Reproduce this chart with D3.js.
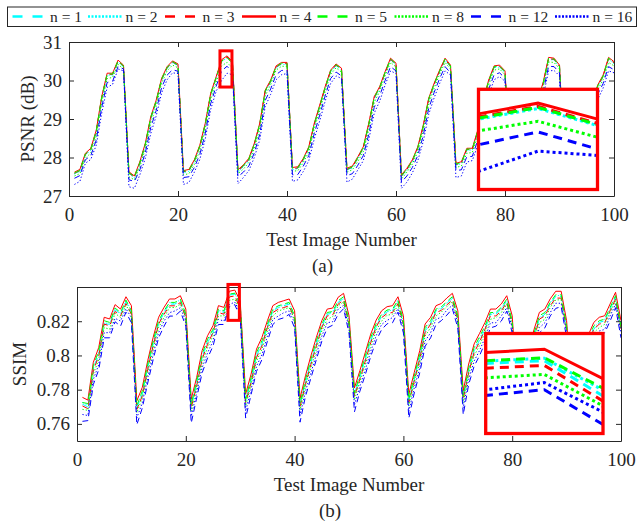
<!DOCTYPE html>
<html>
<head>
<meta charset="utf-8">
<script src="https://cdn.jsdelivr.net/npm/d3@7"></script>
<style>
  body { margin: 0; background: #fff; }
  text { font-family: "Liberation Serif", "Times New Roman", serif; fill: #262626; }
</style>
</head>
<body>
<svg id="fig" width="639" height="527"></svg>
<script>
// ---- data ----
const seriesNames = ["n = 1", "n = 2", "n = 3", "n = 4", "n = 5", "n = 8", "n = 12", "n = 16"];
const xTicks = [0, 20, 40, 60, 80, 100];
const psnrTicks = [27, 28, 29, 30, 31];
const ssimTicks = [0.76, 0.78, 0.8, 0.82];

// PSNR (dB), test images 1..100
const psnr_n1 = [27.58,27.65,28.07,28.20,28.66,29.53,30.15,30.15,30.49,30.36,
  27.59,27.48,27.85,28.33,29.01,29.44,30.02,30.32,30.47,30.39,
  27.62,27.65,27.90,28.28,28.84,29.62,30.06,30.50,30.60,30.44,
  27.64,27.77,27.94,28.33,28.84,29.70,29.97,30.34,30.43,30.43,
  27.70,27.72,27.94,28.24,28.84,29.31,29.80,30.23,30.39,30.28,
  27.68,27.74,27.98,28.24,28.84,29.53,29.80,30.19,30.54,30.41,
  27.51,27.68,27.90,28.24,28.79,29.49,29.89,30.23,30.54,30.36,
  27.81,27.85,28.20,28.20,28.66,29.45,29.97,30.34,30.36,30.21,
  27.66,27.71,27.96,28.26,28.85,29.45,29.91,30.56,30.54,30.36,
  27.56,27.66,27.91,28.26,28.80,29.35,29.84,30.10,30.56,30.45];
const psnr_n2 = [27.57,27.64,28.06,28.19,28.65,29.52,30.14,30.14,30.48,30.35,
  27.58,27.47,27.84,28.32,29.00,29.43,30.01,30.31,30.46,30.38,
  27.61,27.64,27.89,28.27,28.83,29.61,30.05,30.49,30.59,30.43,
  27.63,27.76,27.93,28.32,28.83,29.69,29.96,30.33,30.42,30.42,
  27.69,27.71,27.93,28.23,28.83,29.30,29.79,30.22,30.38,30.27,
  27.67,27.73,27.97,28.23,28.83,29.52,29.79,30.18,30.53,30.40,
  27.50,27.67,27.89,28.23,28.78,29.48,29.88,30.22,30.53,30.35,
  27.80,27.84,28.19,28.19,28.65,29.44,29.96,30.33,30.35,30.20,
  27.65,27.70,27.95,28.25,28.84,29.44,29.90,30.55,30.53,30.35,
  27.55,27.65,27.90,28.25,28.79,29.34,29.83,30.09,30.55,30.44];
const psnr_n3 = [27.59,27.66,28.08,28.21,28.68,29.55,30.16,30.16,30.50,30.37,
  27.60,27.49,27.86,28.34,29.03,29.46,30.03,30.33,30.48,30.40,
  27.63,27.66,27.91,28.29,28.86,29.64,30.07,30.51,30.61,30.45,
  27.65,27.78,27.95,28.34,28.86,29.72,29.98,30.35,30.44,30.44,
  27.71,27.73,27.95,28.25,28.86,29.33,29.81,30.24,30.40,30.29,
  27.69,27.75,27.99,28.25,28.86,29.55,29.81,30.20,30.55,30.42,
  27.52,27.69,27.91,28.25,28.81,29.51,29.90,30.24,30.55,30.37,
  27.82,27.86,28.21,28.21,28.68,29.47,29.98,30.35,30.37,30.22,
  27.67,27.72,27.97,28.27,28.87,29.47,29.92,30.57,30.55,30.37,
  27.57,27.67,27.92,28.27,28.82,29.37,29.85,30.11,30.57,30.46];
const psnr_n4 = [27.62,27.69,28.11,28.24,28.71,29.58,30.19,30.19,30.53,30.40,
  27.63,27.52,27.89,28.37,29.06,29.49,30.06,30.36,30.51,30.43,
  27.66,27.69,27.94,28.32,28.89,29.67,30.10,30.54,30.64,30.49,
  27.68,27.81,27.98,28.37,28.89,29.75,30.01,30.38,30.47,30.47,
  27.74,27.76,27.98,28.28,28.89,29.36,29.84,30.27,30.43,30.32,
  27.72,27.78,28.02,28.28,28.89,29.58,29.84,30.23,30.58,30.45,
  27.55,27.72,27.94,28.28,28.84,29.54,29.93,30.27,30.58,30.40,
  27.85,27.89,28.24,28.24,28.71,29.50,30.01,30.38,30.40,30.25,
  27.70,27.75,28.00,28.30,28.90,29.50,29.95,30.60,30.58,30.40,
  27.60,27.70,27.95,28.30,28.85,29.40,29.88,30.14,30.60,30.49];
const psnr_n5 = [27.60,27.67,28.09,28.22,28.69,29.56,30.17,30.17,30.51,30.38,
  27.61,27.50,27.87,28.35,29.04,29.47,30.04,30.34,30.49,30.41,
  27.64,27.67,27.92,28.30,28.87,29.65,30.08,30.50,30.60,30.44,
  27.66,27.79,27.96,28.35,28.87,29.73,29.99,30.36,30.45,30.45,
  27.72,27.74,27.96,28.26,28.87,29.34,29.82,30.25,30.41,30.30,
  27.70,27.76,28.00,28.26,28.87,29.56,29.82,30.21,30.56,30.43,
  27.53,27.70,27.92,28.26,28.82,29.52,29.91,30.25,30.56,30.38,
  27.83,27.87,28.22,28.22,28.69,29.48,29.99,30.36,30.38,30.23,
  27.68,27.73,27.98,28.28,28.88,29.48,29.93,30.58,30.56,30.38,
  27.58,27.68,27.93,28.28,28.83,29.38,29.86,30.12,30.58,30.47];
const psnr_n8 = [27.52,27.58,27.98,28.12,28.55,29.42,30.05,30.08,30.42,30.30,
  27.50,27.42,27.76,28.22,28.90,29.34,29.93,30.25,30.40,30.33,
  27.55,27.58,27.82,28.18,28.74,29.52,29.96,30.38,30.47,30.32,
  27.58,27.70,27.87,28.23,28.73,29.60,29.89,30.27,30.37,30.37,
  27.64,27.66,27.87,28.15,28.74,29.22,29.71,30.16,30.33,30.22,
  27.62,27.68,27.90,28.15,28.73,29.43,29.72,30.12,30.47,30.35,
  27.44,27.62,27.83,28.15,28.69,29.39,29.80,30.16,30.47,30.30,
  27.74,27.78,28.11,28.13,28.57,29.36,29.88,30.27,30.30,30.15,
  27.60,27.65,27.88,28.17,28.75,29.36,29.82,30.48,30.47,30.30,
  27.50,27.60,27.83,28.17,28.71,29.26,29.75,30.02,30.47,30.38];
const psnr_n12 = [27.46,27.53,27.94,28.05,28.45,29.30,29.95,29.98,30.36,30.30,
  27.42,27.38,27.68,28.12,28.78,29.22,29.82,30.14,30.28,30.24,
  27.48,27.50,27.74,28.08,28.62,29.40,29.85,30.25,30.37,30.21,
  27.50,27.62,27.78,28.12,28.60,29.48,29.78,30.15,30.26,30.27,
  27.55,27.56,27.78,28.05,28.62,29.10,29.60,30.05,30.22,30.12,
  27.53,27.58,27.80,28.05,28.60,29.30,29.60,30.00,30.36,30.25,
  27.36,27.52,27.74,28.05,28.57,29.27,29.69,30.05,30.36,30.20,
  27.66,27.68,28.02,28.03,28.45,29.24,29.77,30.15,30.20,30.06,
  27.52,27.56,27.79,28.07,28.63,29.24,29.71,30.37,30.36,30.20,
  27.42,27.51,27.74,28.07,28.59,29.14,29.64,29.92,30.36,30.28];
const psnr_n16 = [27.30,27.38,27.85,27.95,28.32,29.15,29.82,29.90,30.30,30.25,
  27.24,27.20,27.55,27.98,28.62,29.08,29.68,30.02,30.20,30.18,
  27.30,27.35,27.62,27.95,28.48,29.25,29.72,30.00,30.19,30.15,
  27.32,27.48,27.66,28.00,28.46,29.32,29.64,30.02,30.15,30.18,
  27.38,27.42,27.64,27.92,28.48,28.95,29.46,29.92,30.12,30.05,
  27.36,27.44,27.68,27.92,28.46,29.15,29.46,29.88,30.25,30.18,
  27.20,27.36,27.60,27.92,28.42,29.12,29.55,29.92,30.25,30.14,
  27.48,27.52,27.88,27.92,28.32,29.10,29.62,30.02,30.10,29.98,
  27.35,27.40,27.65,27.95,28.50,29.10,29.58,30.25,30.26,30.12,
  27.25,27.36,27.60,27.95,28.46,29.00,29.50,29.80,30.25,30.20];

// SSIM, test images 1..100
const ssim_n1 = [.7715,.7699,.7920,.8007,.8183,.8183,.8267,.8241,.8313,.8251,
  .7695,.7773,.7929,.8066,.8183,.8251,.8300,.8300,.8319,.8231,
  .7705,.7832,.7988,.8075,.8134,.8261,.8251,.8352,.8358,.8284,
  .7734,.7851,.7997,.8066,.8163,.8261,.8280,.8290,.8300,.8221,
  .7710,.7841,.7958,.8066,.8163,.8241,.8247,.8310,.8333,.8192,
  .7770,.7871,.7978,.8085,.8167,.8231,.8255,.8261,.8313,.8192,
  .7734,.7861,.7988,.8144,.8183,.8261,.8274,.8306,.8333,.8221,
  .7754,.7910,.8027,.8089,.8153,.8241,.8241,.8271,.8319,.8192,
  .7720,.7860,.7990,.8110,.8212,.8241,.8301,.8345,.8345,.8163,
  .7700,.7840,.7970,.8080,.8153,.8193,.8202,.8271,.8339,.8163];
const ssim_n2 = [.7725,.7709,.7930,.8017,.8193,.8183,.8277,.8241,.8323,.8261,
  .7705,.7783,.7939,.8076,.8193,.8251,.8310,.8300,.8329,.8241,
  .7715,.7842,.7998,.8085,.8144,.8261,.8261,.8357,.8363,.8296,
  .7744,.7861,.8007,.8076,.8173,.8261,.8290,.8290,.8310,.8231,
  .7720,.7851,.7968,.8076,.8173,.8241,.8257,.8310,.8343,.8202,
  .7780,.7881,.7988,.8095,.8177,.8231,.8265,.8261,.8323,.8202,
  .7744,.7871,.7998,.8154,.8193,.8261,.8284,.8306,.8343,.8231,
  .7764,.7920,.8037,.8099,.8163,.8241,.8251,.8271,.8329,.8202,
  .7730,.7870,.8000,.8120,.8222,.8241,.8311,.8345,.8355,.8173,
  .7710,.7850,.7980,.8090,.8163,.8193,.8212,.8271,.8349,.8173];
const ssim_n3 = [.7705,.7689,.7910,.7997,.8183,.8173,.8257,.8231,.8303,.8241,
  .7685,.7763,.7919,.8056,.8183,.8241,.8290,.8290,.8309,.8221,
  .7695,.7822,.7978,.8065,.8134,.8251,.8241,.8342,.8348,.8273,
  .7724,.7841,.7987,.8056,.8163,.8251,.8270,.8280,.8290,.8211,
  .7700,.7831,.7948,.8056,.8163,.8231,.8237,.8300,.8323,.8182,
  .7760,.7861,.7968,.8075,.8167,.8221,.8245,.8251,.8303,.8182,
  .7724,.7851,.7978,.8134,.8183,.8251,.8264,.8296,.8323,.8211,
  .7744,.7900,.8017,.8079,.8153,.8231,.8231,.8261,.8309,.8182,
  .7710,.7850,.7980,.8100,.8212,.8231,.8291,.8335,.8335,.8153,
  .7690,.7830,.7960,.8070,.8153,.8183,.8192,.8261,.8329,.8153];
const ssim_n4 = [.7755,.7739,.7960,.8047,.8223,.8213,.8297,.8271,.8343,.8291,
  .7735,.7813,.7969,.8106,.8223,.8281,.8330,.8330,.8349,.8271,
  .7745,.7872,.8028,.8115,.8174,.8291,.8281,.8375,.8382,.8320,
  .7774,.7891,.8037,.8106,.8203,.8291,.8310,.8320,.8330,.8261,
  .7750,.7881,.7998,.8106,.8203,.8271,.8277,.8340,.8363,.8232,
  .7810,.7911,.8018,.8125,.8207,.8261,.8285,.8291,.8343,.8232,
  .7774,.7901,.8028,.8184,.8223,.8291,.8304,.8336,.8363,.8261,
  .7794,.7950,.8067,.8129,.8193,.8271,.8271,.8301,.8349,.8232,
  .7760,.7900,.8030,.8150,.8252,.8271,.8331,.8375,.8375,.8203,
  .7740,.7880,.8010,.8120,.8193,.8223,.8232,.8301,.8369,.8203];
const ssim_n5 = [.7725,.7719,.7940,.8027,.8203,.8193,.8277,.8251,.8323,.8261,
  .7705,.7793,.7949,.8086,.8203,.8261,.8310,.8310,.8329,.8241,
  .7715,.7852,.8008,.8095,.8154,.8271,.8261,.8358,.8364,.8300,
  .7744,.7871,.8017,.8086,.8183,.8271,.8290,.8300,.8310,.8231,
  .7720,.7861,.7978,.8086,.8183,.8251,.8257,.8320,.8343,.8202,
  .7780,.7891,.7998,.8105,.8187,.8241,.8265,.8271,.8323,.8202,
  .7744,.7881,.8008,.8164,.8203,.8271,.8284,.8316,.8343,.8231,
  .7764,.7930,.8047,.8109,.8173,.8251,.8251,.8281,.8329,.8202,
  .7730,.7880,.8010,.8130,.8232,.8251,.8311,.8355,.8355,.8173,
  .7710,.7860,.7990,.8100,.8173,.8203,.8212,.8281,.8349,.8173];
const ssim_n8 = [.7685,.7679,.7890,.7977,.8163,.8153,.8247,.8221,.8293,.8241,
  .7665,.7753,.7899,.8036,.8163,.8221,.8280,.8280,.8299,.8221,
  .7675,.7812,.7958,.8045,.8114,.8231,.8231,.8322,.8329,.8263,
  .7704,.7831,.7967,.8036,.8143,.8231,.8260,.8270,.8280,.8211,
  .7680,.7821,.7928,.8036,.8143,.8211,.8227,.8290,.8313,.8182,
  .7740,.7851,.7948,.8055,.8147,.8201,.8235,.8241,.8293,.8182,
  .7704,.7841,.7958,.8114,.8163,.8231,.8254,.8286,.8313,.8211,
  .7724,.7890,.7997,.8059,.8133,.8211,.8221,.8251,.8299,.8182,
  .7690,.7840,.7960,.8080,.8192,.8211,.8281,.8325,.8325,.8153,
  .7670,.7820,.7940,.8050,.8133,.8163,.8182,.8251,.8319,.8153];
const ssim_n12 = [.7615,.7619,.7830,.7917,.8103,.8103,.8197,.8171,.8253,.8191,
  .7595,.7693,.7839,.7976,.8103,.8171,.8230,.8230,.8259,.8171,
  .7605,.7752,.7898,.7985,.8054,.8181,.8181,.8285,.8297,.8224,
  .7634,.7771,.7907,.7976,.8083,.8181,.8210,.8220,.8240,.8161,
  .7610,.7761,.7868,.7976,.8083,.8161,.8177,.8240,.8273,.8132,
  .7670,.7791,.7888,.7995,.8087,.8151,.8185,.8191,.8253,.8132,
  .7634,.7781,.7898,.8054,.8103,.8181,.8204,.8236,.8273,.8161,
  .7654,.7830,.7937,.7999,.8073,.8161,.8171,.8201,.8259,.8132,
  .7620,.7780,.7900,.8020,.8132,.8161,.8231,.8275,.8285,.8103,
  .7600,.7760,.7880,.7990,.8073,.8113,.8132,.8201,.8279,.8103];
const ssim_n16 = [.7655,.7649,.7860,.7947,.8133,.8133,.8217,.8201,.8273,.8221,
  .7635,.7723,.7869,.8006,.8133,.8201,.8250,.8260,.8279,.8201,
  .7645,.7782,.7928,.8015,.8084,.8211,.8201,.8297,.8312,.8250,
  .7674,.7801,.7937,.8006,.8113,.8211,.8230,.8250,.8260,.8191,
  .7650,.7791,.7898,.8006,.8113,.8191,.8197,.8270,.8293,.8162,
  .7710,.7821,.7918,.8025,.8117,.8181,.8205,.8221,.8273,.8162,
  .7674,.7811,.7928,.8084,.8133,.8211,.8224,.8266,.8293,.8191,
  .7694,.7860,.7967,.8029,.8103,.8191,.8191,.8231,.8279,.8162,
  .7660,.7810,.7930,.8050,.8162,.8191,.8251,.8305,.8305,.8133,
  .7640,.7790,.7910,.8020,.8103,.8143,.8152,.8231,.8299,.8133];

// zoomed regions (data units)
const psnrZoomX = [27.7, 29.9], psnrZoomY = [29.83, 30.77];
const ssimZoomX = [27.75, 29.85], ssimZoomY = [0.8205, 0.8415];
const insetX = [28, 30];

// ---- styling ----
const colors = ["#00ffff", "#00ffff", "#ff0000", "#ff0000", "#00ff00", "#00ff00", "#0000ff", "#0000ff"];
const kinds = ["dash", "dot", "dash", "solid", "dash", "dot", "dash", "dot"];
const dashMain = { dash: "6,4", dot: "1.3,2", solid: null };
const dashInset = { dash: "9,6", dot: "3,3", solid: null };
const dashLegend = { dash: "10,10", dot: "2,1.5", solid: null };
const axisColor = "#262626";
const fontSize = 19;

const svg = d3.select("#fig");
svg.append("rect").attr("width", 639).attr("height", 527).attr("fill", "#fff");

// ---- legend ----
const legendX = [12.5, 88, 165, 242, 317.5, 394.5, 471, 555];
svg.append("rect")
  .attr("x", 7.5).attr("y", 7).attr("width", 629).attr("height", 19.5)
  .attr("fill", "#fff").attr("stroke", axisColor).attr("stroke-width", 1);
seriesNames.forEach((name, k) => {
  const lx = legendX[k];
  svg.append("line")
    .attr("x1", lx).attr("x2", lx + 34).attr("y1", 16.5).attr("y2", 16.5)
    .attr("stroke", colors[k]).attr("stroke-width", 2.7)
    .attr("stroke-dasharray", dashLegend[kinds[k]]);
  svg.append("text")
    .attr("x", lx + 37.5).attr("y", 21.5)
    .style("font-size", "15.5px")
    .text(name);
});

// ---- one panel ----
function drawPanel(p) {
  const x = d3.scaleLinear().domain([0, 100]).range([p.left, p.right]);
  const y = d3.scaleLinear().domain(p.yDomain).range([p.bottom, p.top]);
  const g = svg.append("g");

  const line = d3.line().x((d, i) => x(i + 1)).y(d => y(d));
  p.series.forEach((vals, k) => {
    g.append("path")
      .datum(vals)
      .attr("fill", "none")
      .attr("stroke", colors[k])
      .attr("stroke-width", 1)
      .attr("stroke-dasharray", dashMain[kinds[k]])
      .attr("d", line);
  });

  // axes with inward ticks, mirrored on top/right
  const styleAxis = sel => {
    sel.selectAll("path.domain").attr("stroke", axisColor);
    sel.selectAll(".tick line").attr("stroke", axisColor);
    sel.selectAll("text").attr("font-family", null).style("font-size", fontSize + "px");
  };
  g.append("g").attr("transform", `translate(0,${p.bottom})`)
    .call(d3.axisBottom(x).tickValues(xTicks).tickSizeInner(-5).tickSizeOuter(0).tickPadding(11.5))
    .call(styleAxis);
  g.append("g").attr("transform", `translate(0,${p.top})`)
    .call(d3.axisTop(x).tickValues(xTicks).tickSizeInner(-5).tickSizeOuter(0).tickFormat(""))
    .call(styleAxis);
  g.append("g").attr("transform", `translate(${p.left},0)`)
    .call(d3.axisLeft(y).tickValues(p.yTicks).tickSizeInner(-5).tickSizeOuter(0).tickPadding(7).tickFormat(d => String(d)))
    .call(styleAxis);
  g.append("g").attr("transform", `translate(${p.right},0)`)
    .call(d3.axisRight(y).tickValues(p.yTicks).tickSizeInner(-5).tickSizeOuter(0).tickFormat(""))
    .call(styleAxis);

  // axis labels
  const cx = (p.left + p.right) / 2;
  g.append("text").attr("x", cx).attr("y", p.bottom + 49.5)
    .attr("text-anchor", "middle").style("font-size", fontSize + "px")
    .text("Test Image Number");
  g.append("text").attr("x", cx - 19).attr("y", p.bottom + 76)
    .attr("text-anchor", "middle").style("font-size", fontSize + "px")
    .text(p.tag);
  g.append("text")
    .attr("transform", `translate(${p.yLabelX},${(p.top + p.bottom) / 2}) rotate(-90)`)
    .attr("text-anchor", "middle").style("font-size", fontSize + "px")
    .text(p.yLabel);

  // small marker rectangle around the zoomed region
  g.append("rect")
    .attr("x", x(p.zoomX[0])).attr("y", y(p.zoomY[1]))
    .attr("width", x(p.zoomX[1]) - x(p.zoomX[0]))
    .attr("height", y(p.zoomY[0]) - y(p.zoomY[1]))
    .attr("fill", "none").attr("stroke", "#ff0000").attr("stroke-width", 3);

  // inset
  const b = p.inset;
  const ix = d3.scaleLinear().domain(insetX).range([b.x0, b.x1]);
  const iy = d3.scaleLinear().domain(p.zoomY).range([b.y1, b.y0]);
  const clipId = "clip" + p.tag.replace(/\W/g, "");
  g.append("clipPath").attr("id", clipId)
    .append("rect").attr("x", b.x0).attr("y", b.y0).attr("width", b.x1 - b.x0).attr("height", b.y1 - b.y0);
  g.append("rect").attr("x", b.x0).attr("y", b.y0).attr("width", b.x1 - b.x0).attr("height", b.y1 - b.y0)
    .attr("fill", "#fff");
  const iline = d3.line().x(d => ix(d[0])).y(d => iy(d[1]));
  const ig = g.append("g").attr("clip-path", `url(#${clipId})`);
  p.series.forEach((vals, k) => {
    const pts = vals.map((v, i) => [i + 1, v]).filter(d => d[0] >= 27 && d[0] <= 31);
    ig.append("path")
      .datum(pts)
      .attr("fill", "none")
      .attr("stroke", colors[k])
      .attr("stroke-width", 3)
      .attr("stroke-dasharray", dashInset[kinds[k]])
      .attr("d", iline);
  });
  g.append("rect").attr("x", b.x0).attr("y", b.y0).attr("width", b.x1 - b.x0).attr("height", b.y1 - b.y0)
    .attr("fill", "none").attr("stroke", "#ff0000").attr("stroke-width", 3.3);
}

drawPanel({
  left: 69, right: 614, top: 42, bottom: 196,
  yDomain: [27, 31], yTicks: psnrTicks,
  yLabel: "PSNR (dB)", yLabelX: 34, tag: "(a)",
  series: [psnr_n1, psnr_n2, psnr_n3, psnr_n4, psnr_n5, psnr_n8, psnr_n12, psnr_n16],
  zoomX: psnrZoomX, zoomY: psnrZoomY,
  inset: { x0: 478.5, x1: 597.5, y0: 89.3, y1: 189.5 }
});

drawPanel({
  left: 77, right: 621, top: 287, bottom: 441,
  yDomain: [0.75, 0.84], yTicks: ssimTicks,
  yLabel: "SSIM", yLabelX: 26, tag: "(b)",
  series: [ssim_n1, ssim_n2, ssim_n3, ssim_n4, ssim_n5, ssim_n8, ssim_n12, ssim_n16],
  zoomX: ssimZoomX, zoomY: ssimZoomY,
  inset: { x0: 485.7, x1: 603, y0: 333.5, y1: 433.5 }
});
</script>
</body>
</html>
